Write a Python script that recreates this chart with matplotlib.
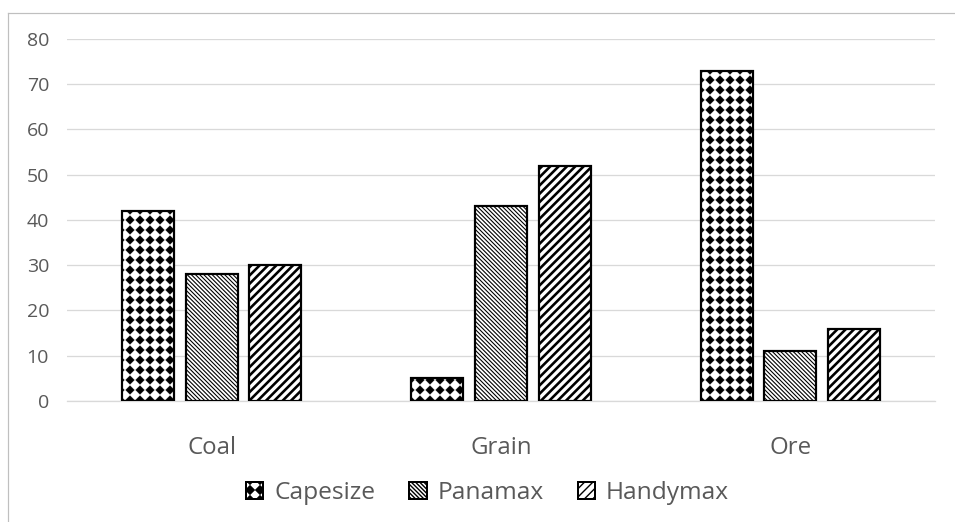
import numpy as np
import matplotlib.pyplot as plt
import matplotlib.hatch as mhatch
from matplotlib.path import Path
from matplotlib.lines import Line2D
from matplotlib.patches import Rectangle

categories = ['Coal', 'Grain', 'Ore']
capesize = [42, 5, 73]
panamax = [28, 43, 11]
handymax = [30, 52, 16]

DPI = 100


def px(p):
    # pixels -> points
    return p * 72.0 / DPI


class DiamondGrid(mhatch.HatchPatternBase):
    """Excel style 'solid diamond' fill: black diamonds on a square grid.
    Hooked onto the 'O' hatch character (large circles are dropped)."""

    def __init__(self, hatch, density):
        self.num_rows = hatch.count('O') * 5
        self.num_vertices = (self.num_rows + 1) ** 2 * 5 if self.num_rows else 0

    def set_vertices_and_codes(self, vertices, codes):
        step = 1.0 / self.num_rows
        r = 0.42 * step
        shape = np.array([[r, 0], [0, r], [-r, 0], [0, -r], [r, 0]])
        shape_codes = [Path.MOVETO, Path.LINETO, Path.LINETO, Path.LINETO,
                       Path.CLOSEPOLY]
        k = 0
        for i in range(self.num_rows + 1):
            for j in range(self.num_rows + 1):
                vertices[k:k + 5] = shape + [i * step, j * step]
                codes[k:k + 5] = shape_codes
                k += 5


mhatch._hatch_types = [t for t in mhatch._hatch_types
                       if t is not mhatch.LargeCircles] + [DiamondGrid]

plt.rcParams['font.family'] = ['Open Sans', 'DejaVu Sans']

fig = plt.figure(figsize=(955 / DPI, 522 / DPI), dpi=DPI)
ax = fig.add_axes([0.0702, 0.2318, 0.909, 0.6935])

x = np.arange(len(categories))
width = 0.18
step = 0.22
edge_lw = px(2.2)

cape_hatch = 'OO'
pana_hatch = '\\' * 8
handy_hatch = '////'

with plt.rc_context({'hatch.linewidth': px(0.6)}):
    cape = ax.bar(x - step, capesize, width, color='white', edgecolor='black',
                  linewidth=edge_lw, hatch=cape_hatch, zorder=3)
with plt.rc_context({'hatch.linewidth': px(1.1)}):
    pana = ax.bar(x, panamax, width, color='white', edgecolor='black',
                  linewidth=edge_lw, hatch=pana_hatch, zorder=3)
with plt.rc_context({'hatch.linewidth': px(2.6)}):
    handy = ax.bar(x + step, handymax, width, color='white', edgecolor='black',
                   linewidth=edge_lw, hatch=handy_hatch, zorder=3)

ax.set_xlim(-0.5, 2.5)
ax.set_ylim(0, 80)
ax.set_yticks(range(0, 81, 10))
ax.yaxis.grid(True, color='#d9d9d9', linewidth=px(1.3), zorder=0)
for s in ['top', 'right', 'left']:
    ax.spines[s].set_visible(False)
ax.spines['bottom'].set_color('#d9d9d9')
ax.spines['bottom'].set_linewidth(px(1.3))
ax.tick_params(axis='both', length=0, colors='#595959')
ax.tick_params(axis='y', labelsize=px(19.5), pad=px(18))
ax.tick_params(axis='x', labelsize=px(24), pad=px(35))
ax.set_xticks(x)
ax.set_xticklabels(categories)

# legend handles
with plt.rc_context({'hatch.linewidth': px(0.6)}):
    h_cape = Rectangle((0, 0), 1, 1, facecolor='white', edgecolor='black',
                       linewidth=px(2), hatch='OO')
with plt.rc_context({'hatch.linewidth': px(1.1)}):
    h_pana = Rectangle((0, 0), 1, 1, facecolor='white', edgecolor='black',
                       linewidth=px(2), hatch=pana_hatch)
with plt.rc_context({'hatch.linewidth': px(2.6)}):
    h_handy = Rectangle((0, 0), 1, 1, facecolor='white', edgecolor='black',
                        linewidth=px(2), hatch=handy_hatch)

fig.legend([h_cape, h_pana, h_handy],
           ['Capesize', 'Panamax', 'Handymax'],
           loc='center', bbox_to_anchor=(0.5105, 0.055), ncol=3, frameon=False,
           fontsize=px(24.5), handlelength=0.7, handleheight=0.7,
           columnspacing=1.4, handletextpad=0.44, labelcolor='#595959')

# outer chart border
fig.add_artist(Line2D([8 / 955, 1], [1 - 13 / 522, 1 - 13 / 522],
                      transform=fig.transFigure, color='#bfbfbf', linewidth=px(1.2)))
fig.add_artist(Line2D([8 / 955, 8 / 955], [0, 1 - 13 / 522],
                      transform=fig.transFigure, color='#bfbfbf', linewidth=px(1.2)))

fig.savefig('out.png', dpi=DPI)
